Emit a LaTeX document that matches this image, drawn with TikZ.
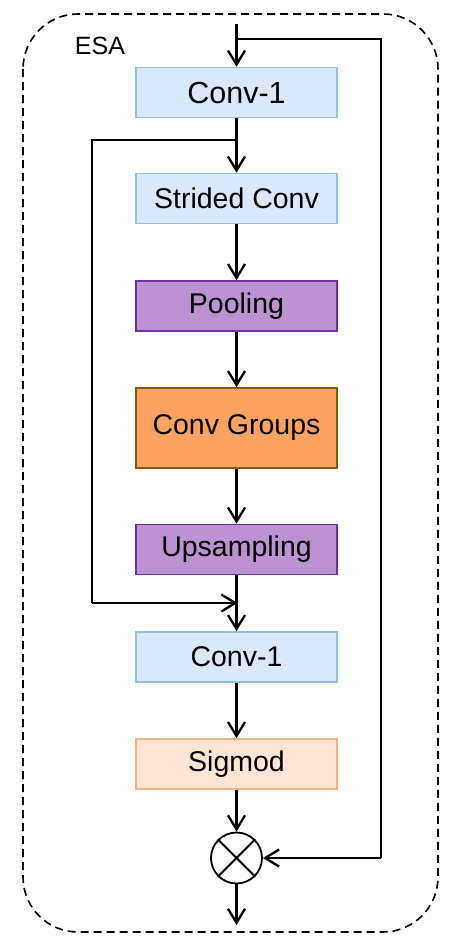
\documentclass[tikz,border=0pt]{standalone}
\usepackage{fontspec}
\setmainfont{Liberation Sans}
\usetikzlibrary{arrows.meta,shapes.misc}
\definecolor{bluefill}{HTML}{DAE8FC}
\definecolor{blueline}{HTML}{96C0E2}
\definecolor{purfill}{HTML}{BC92D2}
\definecolor{purline}{HTML}{7030A0}
\definecolor{orfill}{HTML}{FFA262}
\definecolor{orline}{HTML}{7F6000}
\definecolor{pkfill}{HTML}{FFE5D5}
\definecolor{pkline}{HTML}{F4B183}
\tikzset{
  blk/.style={draw, line width=1.6pt, minimum width=201pt, minimum height=50pt, inner sep=0pt, font=\fontsize{28.5}{30}\selectfont},
  bluebox/.style={blk, fill=bluefill, draw=blueline},
  purbox/.style={blk, fill=purfill, draw=purline},
  orbox/.style={blk, fill=orfill, draw=orline},
  pkbox/.style={blk, fill=pkfill, draw=pkline},
  conn/.style={line width=2.3pt},
  arr/.style={conn, -{Straight Barb[length=14pt,width=17pt]}},
}
\begin{document}
\begin{tikzpicture}[x=1pt,y=-1pt]
\useasboundingbox (0,0) rectangle (464,948);
\draw[dashed, line width=1.6pt, dash pattern=on 8pt off 5pt, rounded corners=55pt] (23,14) rectangle (438,932);
\node[font=\fontsize{25}{27}\selectfont] (esa) at (100,46) {ESA};
\node[bluebox, font=\fontsize{30.5}{32}\selectfont] (c1) at (236.5,92.5) {Conv-1};
\node[bluebox] (sc) at (236.5,198.5) {Strided Conv};
\node[purbox] (pool) at (236.5,306) {Pooling};
\node[orbox, minimum height=80pt] (cg) at (236.5,428) {Conv Groups};
\node[purbox] (up) at (236.5,549.5) {Upsampling};
\node[bluebox] (c2) at (236.5,657) {Conv-1};
\node[pkbox] (sig) at (236.5,764) {Sigmod};
\node[draw, circle, line width=1.8pt, minimum size=51pt, inner sep=0pt] (mul) at (236.5,858) {};
\draw[line width=1.8pt] (mul.north west) -- (mul.south east) (mul.north east) -- (mul.south west);
\coordinate (in) at (236.5,24);
\coordinate (tj) at (236.5,39);
\coordinate (tr) at (381,39);
\coordinate (br) at (381,858);
\coordinate (sj) at (236.5,140);
\coordinate (sl) at (92,140);
\coordinate (bl) at (92,603);
\coordinate (bj) at (237.5,603);
\coordinate (out) at (236.5,925);
\draw[arr] (in) -- (c1.north);
\draw[conn] (tj) -- (tr) -- (br);
\draw[arr] (br) -- (mul.east);
\draw[arr] (c1.south) -- (sc.north);
\draw[conn] (sj) -- (sl) -- (bl);
\draw[arr] (bl) -- (bj);
\draw[arr] (sc.south) -- (pool.north);
\draw[arr] (pool.south) -- (cg.north);
\draw[arr] (cg.south) -- (up.north);
\draw[arr] (up.south) -- (c2.north);
\draw[arr] (c2.south) -- (sig.north);
\draw[arr] (sig.south) -- (mul.north);
\draw[arr] (mul.south) -- (out);
\end{tikzpicture}
\end{document}
